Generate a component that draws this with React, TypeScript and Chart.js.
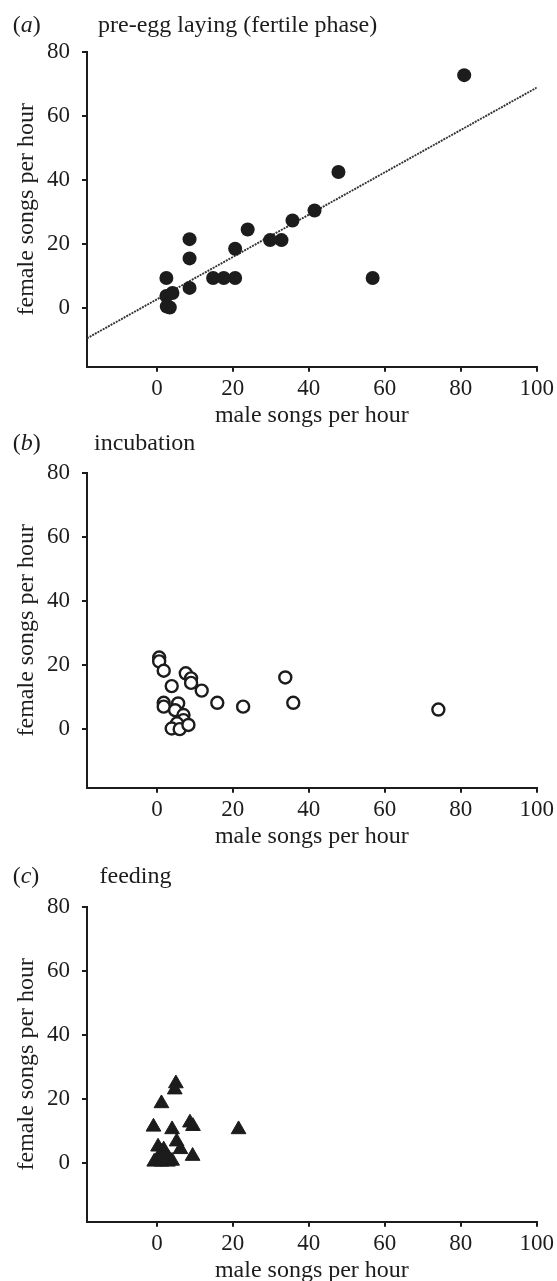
import React, { useEffect, useRef } from "react";
import { Chart, registerables } from "chart.js";

Chart.register(...registerables);

const FONT = '"Liberation Serif", "Times New Roman", serif';
const INK = "#1c1c1c";

// axis ticks
const xTicks = [0, 20, 40, 60, 80, 100];
const yTicks = [0, 20, 40, 60, 80];

// (a) pre-egg laying (fertile phase)
const preEggMale = [80.9, 47.8, 56.8, 41.5, 35.7, 32.8, 29.8, 23.9, 20.6, 20.6, 17.6, 14.8, 8.6, 8.6, 8.6, 2.5, 2.5, 4.1, 3.4, 2.6];
const preEggFemale = [72.7, 42.5, 9.5, 30.5, 27.4, 21.3, 21.3, 24.6, 18.6, 9.5, 9.5, 9.5, 21.6, 15.6, 6.4, 9.5, 3.9, 4.8, 0.3, 0.6];
const fitMale = [-18.4, 100];
const fitFemale = [-9.3, 68.8];

// (b) incubation
const incMale = [0.6, 0.6, 1.8, 3.9, 1.8, 1.8, 5.6, 4.8, 7.0, 7.0, 5.3, 3.9, 6.0, 8.3, 7.6, 9.0, 9.0, 11.8, 15.9, 22.7, 33.8, 35.9, 74.1];
const incFemale = [22.4, 21.2, 18.3, 13.5, 8.3, 7.1, 8.1, 6.0, 4.5, 2.9, 1.9, 0.3, 0.1, 1.4, 17.5, 15.9, 14.5, 12.1, 8.3, 7.1, 16.2, 8.3, 6.2];

// (c) feeding
const feedMale = [5.0, 4.7, 1.2, -0.9, 4.0, 8.7, 9.5, 21.5, 5.2, 6.2, 9.4, 0.3, 1.2, 2.2, 3.1, -0.7, 1.2, 2.9, 0.7, 4.0, 1.8, 2.5];
const feedFemale = [24.9, 23.0, 18.7, 11.4, 10.6, 12.7, 11.6, 10.6, 6.8, 4.4, 2.3, 5.2, 3.6, 2.6, 1.6, 0.5, 0.5, 0.5, 2.1, 0.8, 4.3, 1.2];

const pts = (xs: number[], ys: number[]) => xs.map((x, i) => ({ x, y: ys[i] }));

const CANVAS_W = 557;
const CANVAS_H = 440;
const AREA_TOP = 51.7;
const AREA_BOTTOM = 366.7;
const AREA_LEFT = 87;
const AREA_RIGHT = 540;

const panelTitle = {
  id: "panelTitle",
  afterDraw(chart: any, _args: any, opts: any) {
    const ctx = chart.ctx;
    ctx.save();
    ctx.fillStyle = INK;
    ctx.textBaseline = "middle";
    ctx.textAlign = "left";
    let x = 12.7;
    const y = opts.y;
    ctx.font = `24px ${FONT}`;
    ctx.fillText("(", x, y);
    x += ctx.measureText("(").width;
    ctx.font = `italic 24px ${FONT}`;
    ctx.fillText(opts.letter, x, y);
    x += ctx.measureText(opts.letter).width;
    ctx.font = `24px ${FONT}`;
    ctx.fillText(")", x, y);
    ctx.fillText(opts.text, opts.textX, y);
    ctx.restore();
  },
};

type PanelProps = {
  top: number;
  letter: string;
  text: string;
  textX: number;
  titleY: number;
  datasets: any[];
};

function ScatterPanel({ top, letter, text, textX, titleY, datasets }: PanelProps) {
  const ref = useRef<HTMLCanvasElement>(null);
  useEffect(() => {
    if (!ref.current) return;
    const axisCommon = {
      type: "linear" as const,
      grid: {
        drawOnChartArea: false,
        drawTicks: true,
        tickLength: 5,
        lineWidth: 2,
        color: INK,
      },
      border: { display: true, color: INK, width: 2 },
    };
    const chart = new Chart(ref.current, {
      type: "scatter",
      data: { datasets },
      options: {
        animation: false,
        responsive: false,
        events: [],
        layout: { padding: { top: AREA_TOP, right: CANVAS_W - AREA_RIGHT, left: 0, bottom: 0 } },
        plugins: {
          legend: { display: false },
          tooltip: { enabled: false },
          panelTitle: { letter, text, textX, y: titleY },
        } as any,
        scales: {
          x: {
            ...axisCommon,
            position: "bottom",
            min: -18.4,
            max: 100,
            afterBuildTicks: (s: any) => {
              s.ticks = xTicks.map((v) => ({ value: v }));
            },
            afterFit: (s: any) => {
              s.height = CANVAS_H - AREA_BOTTOM;
            },
            ticks: { color: INK, font: { family: FONT, size: 23 }, padding: 3, maxRotation: 0 },
            title: {
              display: true,
              text: "male songs per hour",
              color: INK,
              font: { family: FONT, size: 24 },
              padding: { top: 0, bottom: 9.6 },
            },
          },
          y: {
            ...axisCommon,
            position: "left",
            min: -18.15,
            max: 80,
            afterBuildTicks: (s: any) => {
              s.ticks = yTicks.map((v) => ({ value: v }));
            },
            afterFit: (s: any) => {
              s.width = AREA_LEFT;
            },
            ticks: { color: INK, font: { family: FONT, size: 23 }, padding: 12 },
            title: {
              display: true,
              text: "female songs per hour",
              color: INK,
              font: { family: FONT, size: 24 },
              padding: { top: 12.3, bottom: 0 },
            },
          },
        },
      },
      plugins: [panelTitle],
    } as any);
    return () => chart.destroy();
  }, []);
  return (
    <canvas
      ref={ref}
      width={CANVAS_W}
      height={CANVAS_H}
      style={{ position: "absolute", left: 0, top, width: CANVAS_W, height: CANVAS_H }}
    />
  );
}

export default function App() {
  const aSets = [
    {
      type: "scatter",
      data: pts(preEggMale, preEggFemale),
      pointStyle: "circle",
      pointRadius: 7,
      backgroundColor: INK,
      borderColor: INK,
      borderWidth: 0,
      clip: false,
    },
    {
      type: "line",
      data: pts(fitMale, fitFemale),
      borderColor: "#333",
      borderWidth: 1.9,
      borderDash: [2, 1],
      pointRadius: 0,
      fill: false,
      showLine: true,
    },
  ];
  const bSets = [
    {
      type: "scatter",
      data: pts(incMale, incFemale),
      pointStyle: "circle",
      pointRadius: 6,
      backgroundColor: "#ffffff",
      borderColor: INK,
      borderWidth: 2.4,
      clip: false,
    },
  ];
  const cSets = [
    {
      type: "scatter",
      data: pts(feedMale, feedFemale),
      pointStyle: "triangle",
      pointRadius: 8.5,
      backgroundColor: INK,
      borderColor: INK,
      borderWidth: 1,
      clip: false,
    },
  ];
  return (
    <div
      style={{
        position: "absolute",
        left: 0,
        top: 0,
        width: 557,
        height: 1281,
        overflow: "hidden",
        background: "#ffffff",
      }}
    >
      <ScatterPanel top={0} letter="a" text="pre-egg laying (fertile phase)" textX={98} titleY={25.5} datasets={aSets} />
      <ScatterPanel top={421} letter="b" text="incubation" textX={94} titleY={22.5} datasets={bSets} />
      <ScatterPanel top={855} letter="c" text="feeding" textX={99.5} titleY={22} datasets={cSets} />
    </div>
  );
}
